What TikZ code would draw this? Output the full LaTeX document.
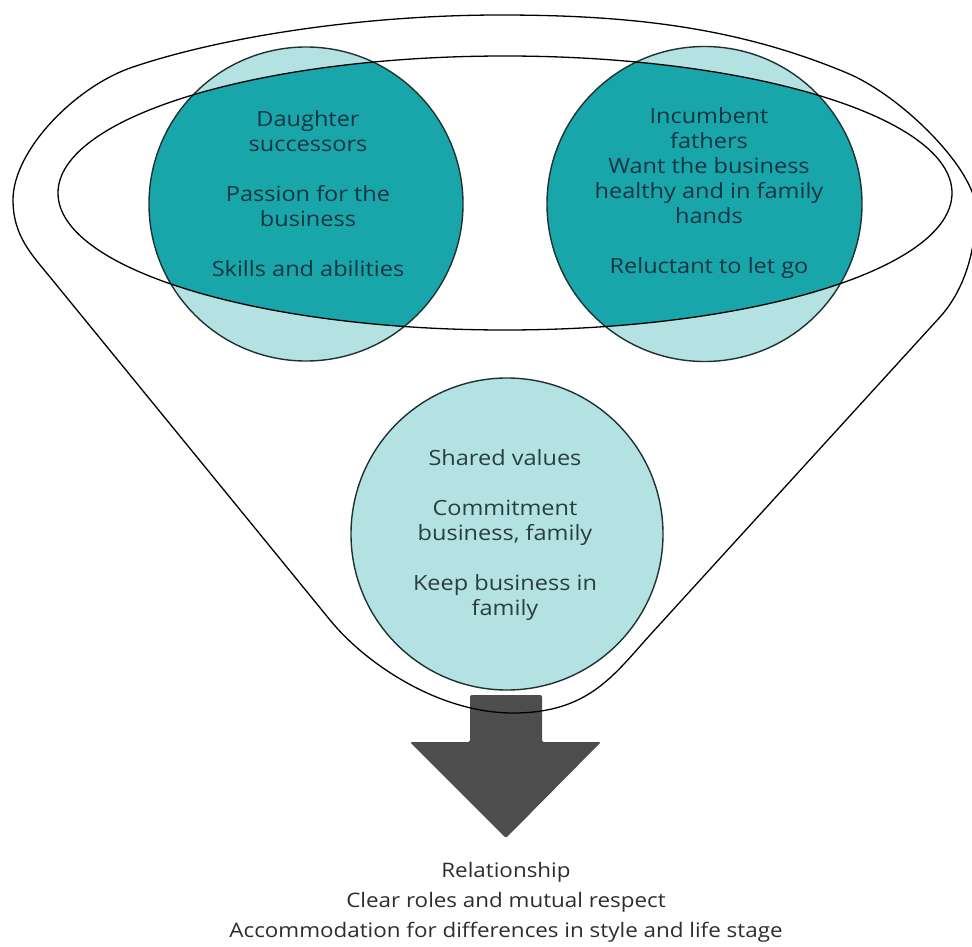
\documentclass[tikz,border=0pt]{standalone}
\usepackage{fontspec}
\setmainfont{Open Sans}[FakeStretch=1.12]
\definecolor{darkteal}{RGB}{24,166,171}
\definecolor{lightteal}{RGB}{180,226,227}
\definecolor{txtdark}{RGB}{22,52,66}
\definecolor{txtgray}{RGB}{40,62,64}
\definecolor{bottomtxt}{RGB}{45,45,45}
\definecolor{arrowgray}{RGB}{77,77,77}
\definecolor{ringline}{RGB}{30,50,50}
\tikzset{
  bubble/.style={circle, inner sep=0pt, minimum size=#1, fill=lightteal},
  ctext/.style={align=center, text=txtdark, font=\fontsize{21}{25}\selectfont, inner sep=0pt},
  btext/.style={align=center, text=bottomtxt, font=\fontsize{20}{30}\selectfont, inner sep=0pt},
  contour/.style={line width=1.3pt, black},
  rim/.style={line width=1.4pt, ringline}
}
\begin{document}
\begin{tikzpicture}[x=1pt,y=-1pt]
\useasboundingbox (0,0) rectangle (972,947);
\clip (0,0) rectangle (972,947);

% arrow
\fill[arrowgray, rounded corners=2pt] (470,695) -- (542,695) -- (542,742) -- (601,742)
   -- (506,838) -- (410,742) -- (470,742) -- cycle;

% outer funnel contour
\coordinate (A) at (50,277);
\coordinate (B) at (330,620);
\coordinate (M) at (513,713);
\coordinate (C) at (650,635);
\coordinate (D) at (940,317);
\coordinate (E) at (976,210);
\coordinate (F) at (847,73);
\coordinate (G) at (500,15);
\coordinate (H) at (133,67);
\coordinate (I) at (13,200);
\draw[contour] (A) -- (B)
  .. controls (365,663) and (438,713) .. (M)
  .. controls (588,713) and (613,676) .. (C)
  -- (D)
  .. controls (967,287) and (976,245) .. (E)
  .. controls (976,170) and (902,96) .. (F)
  .. controls (737,27) and (630,15) .. (G)
  .. controls (370,15) and (228,35) .. (H)
  .. controls (76,86) and (13,150) .. (I)
  .. controls (13,235) and (31,254) .. (A) -- cycle;

% circles
\node[bubble=314pt] (dau) at (306,204) {};
\node[bubble=315pt] (fat) at (704.5,204) {};
\node[bubble=312pt] (shared) at (507,534) {};

\begin{scope}
  \clip (505,193) ellipse [x radius=447pt, y radius=137pt];
  \fill[darkteal] (dau.center) circle [radius=157pt];
  \fill[darkteal] (fat.center) circle [radius=157.5pt];
\end{scope}

\draw[rim] (dau.center) circle [radius=157pt];
\draw[rim] (fat.center) circle [radius=157.5pt];
\draw[rim] (shared.center) circle [radius=156pt];

% inner ellipse
\draw[contour] (505,193) ellipse [x radius=447pt, y radius=137pt];

% texts
\node[ctext] (tdau) at (308,194) {Daughter\\successors\\[25pt]Passion for the\\business\\[25pt]Skills and abilities};
\node[ctext] (tfat) at (709,193.5) {Incumbent\\fathers\\Want the business\\healthy and in family\\hands\\[25pt]Reluctant to let go};
\node[ctext, text=txtgray] (tsh) at (505,535) {Shared values\\[25pt]Commitment\\business, family\\[25pt]Keep business in\\family};

\node[btext] (res) at (506,902) {Relationship\\Clear roles and mutual respect\\Accommodation for differences in style and life stage};
\end{tikzpicture}
\end{document}
